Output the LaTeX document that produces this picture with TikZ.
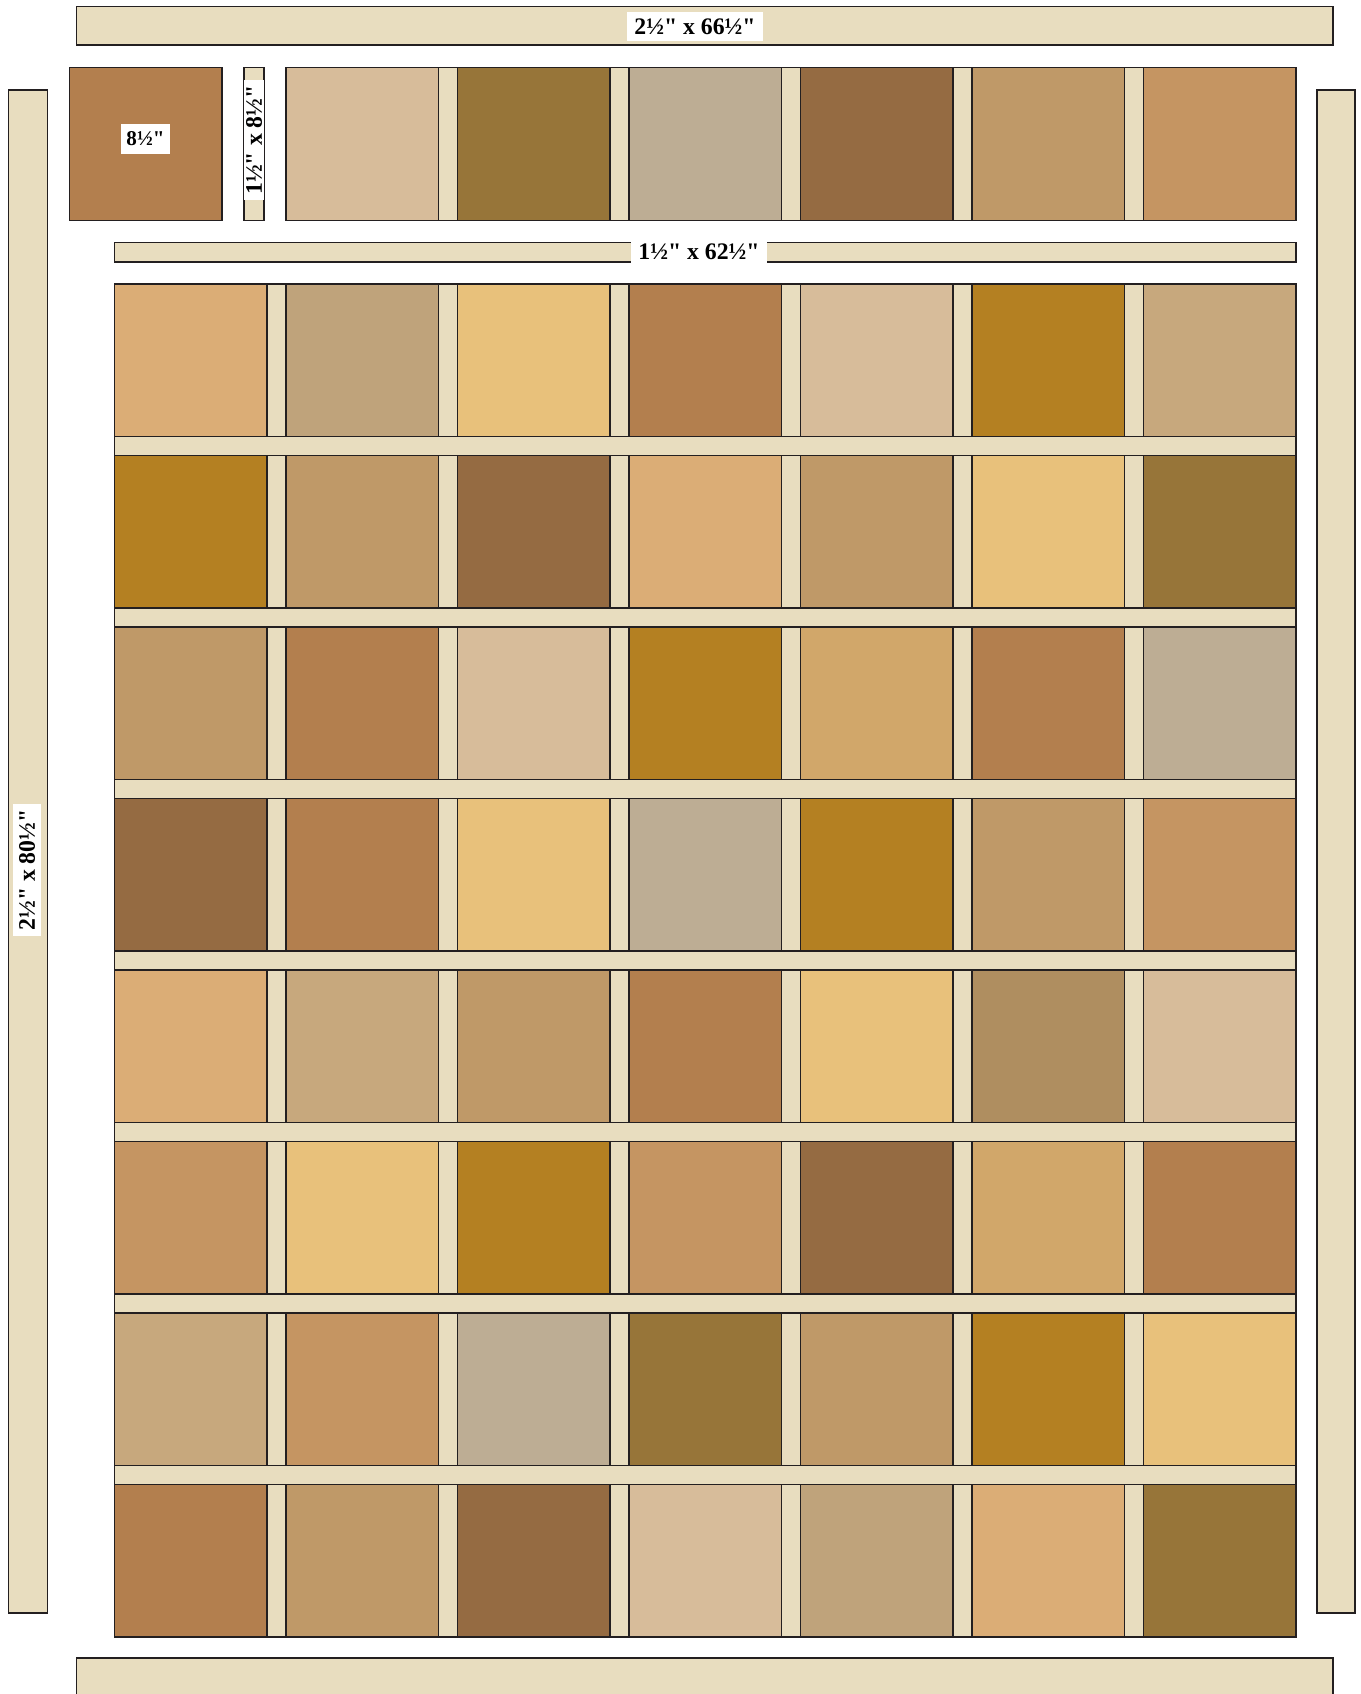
\documentclass[tikz,border=0pt]{standalone}
\usepackage{fontspec}
\setmainfont{Liberation Serif}[Ligatures=TeXOff]
\usepackage{tikz}

\definecolor{cLine}{HTML}{231F20}
\definecolor{cSash}{HTML}{E8DDBF}
\definecolor{cRust}{HTML}{B37F4E}
\definecolor{cLinen}{HTML}{D7BC9A}
\definecolor{cOlive}{HTML}{977539}
\definecolor{cStone}{HTML}{BDAD94}
\definecolor{cWalnut}{HTML}{956B42}
\definecolor{cTan}{HTML}{BF9968}
\definecolor{cCaramel}{HTML}{C59562}
\definecolor{cPeach}{HTML}{DBAD76}
\definecolor{cStraw}{HTML}{E8C17B}
\definecolor{cMustard}{HTML}{B48022}
\definecolor{cSand}{HTML}{C7A87D}
\definecolor{cFawn}{HTML}{BFA37B}
\definecolor{cOchre}{HTML}{D1A76A}
\definecolor{cKhaki}{HTML}{AF8E60}

\tikzset{
  block/.style={draw=cLine,line width=.9pt},
  sash/.style={draw=cLine,fill=cSash,line width=.9pt},
  lbl/.style={fill=white,inner xsep=1.5mm,inner ysep=0pt,minimum height=6mm,
    font=\bfseries\fontsize{13.5}{15}\selectfont},
}

\begin{document}
\begin{tikzpicture}[x=.02cm,y=-.02cm]
  \useasboundingbox (0,0) rectangle (1361,1694);
  \draw[sash] (76.7,6.7) rectangle (1332.7,45);
  \draw[sash] (76.7,1657.7) rectangle (1332.7,1705);
  \draw[sash] (8.3,90) rectangle (47.7,1612.7);
  \draw[sash] (1316.7,90) rectangle (1355,1612.7);

  \draw[block,fill=cRust] (69.3,67.7) rectangle (222,220.3);
  \draw[sash] (244,67.7) rectangle (264,220.3);
  \foreach \c [count=\k] in {cLinen,cOlive,cStone,cWalnut,cTan,cCaramel}
    \draw[block,fill=\c] (114.3+171.5*\k,67.7) rectangle ++(152.5,152.6);
  \foreach \k in {1,...,5}
    \draw[sash] (266.8+171.5*\k,67.7) rectangle ++(19,152.6);
  \draw[sash] (114.3,242.7) rectangle (1295.8,262);

  \foreach \row [count=\r from 0] in {
      {cPeach,cFawn,cStraw,cRust,cLinen,cMustard,cSand},
      {cMustard,cTan,cWalnut,cPeach,cTan,cStraw,cOlive},
      {cTan,cRust,cLinen,cMustard,cOchre,cRust,cStone},
      {cWalnut,cRust,cStraw,cStone,cMustard,cTan,cCaramel},
      {cPeach,cSand,cTan,cRust,cStraw,cKhaki,cLinen},
      {cCaramel,cStraw,cMustard,cCaramel,cWalnut,cOchre,cRust},
      {cSand,cCaramel,cStone,cOlive,cTan,cMustard,cStraw},
      {cRust,cTan,cWalnut,cLinen,cFawn,cPeach,cOlive}} {
    \foreach \c [count=\k from 0] in \row
      \draw[block,fill=\c] (114.3+171.5*\k,284+171.5*\r) rectangle ++(152.5,152.5);
    \foreach \k in {0,...,5}
      \draw[sash] (266.8+171.5*\k,284+171.5*\r) rectangle ++(19,152.5);
  }
  \foreach \r in {0,...,6}
    \draw[sash] (114.3,436.5+171.5*\r) rectangle ++(1181.5,19);

  \node[lbl] (toplbl) at (695,26.5) {2½" x 66½"};
  \node[lbl] (striplbl) at (699,252) {1½" x 62½"};
  \node[lbl,inner xsep=1mm,font=\bfseries\fontsize{12}{14}\selectfont] (blocklbl) at (145.5,139) {8½"};
  \node[lbl,rotate=90,minimum height=4mm,inner xsep=1mm] (sashlbl) at (254,140) {1½" x 8½"};
  \node[lbl,rotate=90,minimum height=5.8mm,inner xsep=1mm] (sidelbl) at (27,870) {2½" x 80½"};
\end{tikzpicture}
\end{document}
